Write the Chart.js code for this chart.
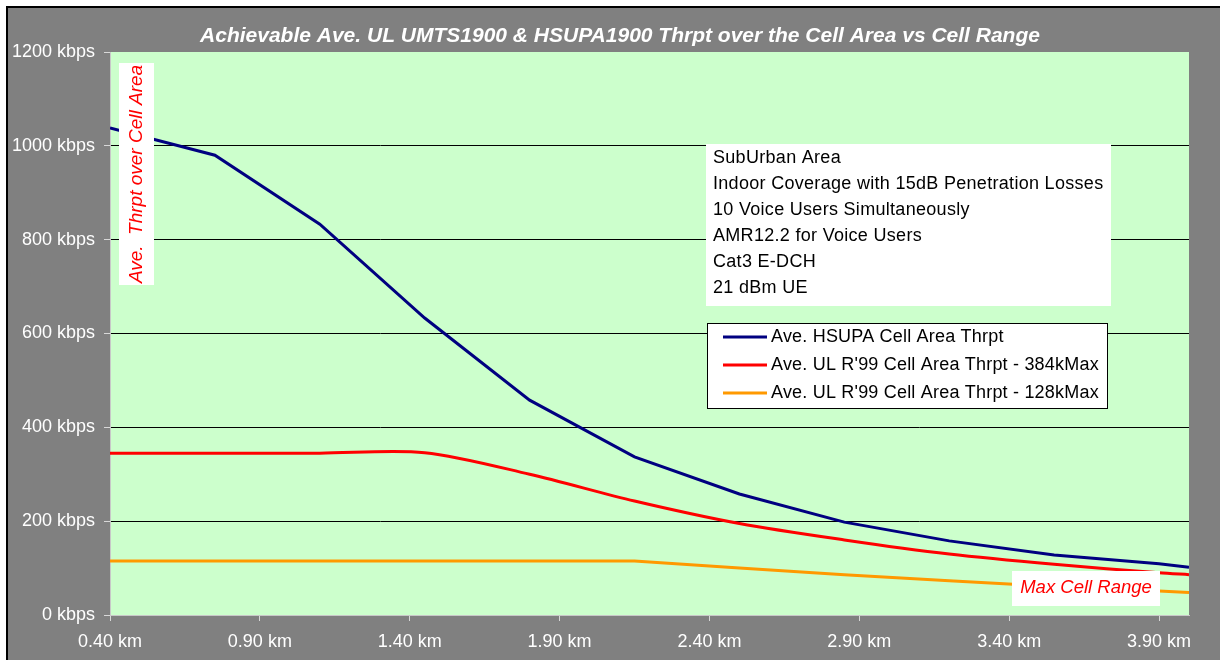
<!DOCTYPE html>
<html>
<head>
<meta charset="utf-8">
<script src="https://cdn.jsdelivr.net/npm/chart.js@4"></script>
<style>
  html, body { margin: 0; padding: 0; background: #fff; }
  .wrap { position: relative; width: 1220px; height: 660px; }
</style>
</head>
<body>
<div class="wrap"><canvas id="cv"></canvas></div>
<script>
// ---- data ----
const distKm   = [0.40, 0.75, 1.10, 1.45, 1.80, 2.15, 2.50, 2.85, 3.20, 3.55, 3.90, 4.00];
const hsupa    = [1038, 980, 833, 633, 458, 337, 258, 198, 158, 128, 109, 102];
const r99_384  = [345, 345, 345, 346, 300, 243, 195, 160, 130, 108, 90, 86];
const r99_128  = [115, 115, 115, 115, 115, 115, 100, 86, 73, 61, 51, 48];
const xTicks   = [0.40, 0.90, 1.40, 1.90, 2.40, 2.90, 3.40, 3.90];
const yTicks   = [0, 200, 400, 600, 800, 1000, 1200];

const seriesNames = [
  'Ave. HSUPA Cell Area Thrpt',
  "Ave. UL R'99 Cell Area Thrpt - 384kMax",
  "Ave. UL R'99 Cell Area Thrpt - 128kMax"
];
const seriesColors = ['#000080', '#FF0000', '#FF9900'];

const titleText = 'Achievable Ave. UL UMTS1900 & HSUPA1900 Thrpt over the Cell Area vs Cell Range';
const yNote = 'Ave.  Thrpt over Cell Area';
const rangeNote = 'Max Cell Range';
const infoLines = [
  'SubUrban Area',
  'Indoor Coverage with 15dB Penetration Losses',
  '10 Voice Users Simultaneously',
  'AMR12.2 for Voice Users',
  'Cat3 E-DCH',
  '21 dBm UE'
];

const FONT = '"Liberation Sans", Arial, sans-serif';

function pts(ys) { return distKm.map((x, i) => ({ x, y: ys[i] })); }

// background, title, boxes
const deco = {
  id: 'deco',
  beforeDraw(chart) {
    const c = chart.ctx, a = chart.chartArea;
    c.save();
    c.fillStyle = '#808080';
    c.fillRect(7, 7, 1213, 653);
    c.strokeStyle = '#000';
    c.lineWidth = 2;
    c.beginPath(); c.moveTo(7, 660); c.lineTo(7, 7); c.lineTo(1220, 7); c.stroke();
    c.fillStyle = '#CCFFCC';
    c.fillRect(a.left, a.top, a.right - a.left, a.bottom - a.top);
    c.fillStyle = '#fff';
    c.font = 'italic bold 21px ' + FONT;
    c.textAlign = 'center'; c.textBaseline = 'middle';
    c.fillText(titleText, 620, 36);
    c.restore();
  },
  afterDatasetsDraw(chart) {
    const c = chart.ctx;
    c.save();
    // rotated y note
    c.fillStyle = '#fff';
    c.fillRect(119, 63, 35, 222);
    c.translate(137, 174);
    c.rotate(-Math.PI / 2);
    c.fillStyle = '#FF0000';
    c.font = 'italic 19px ' + FONT;
    c.textAlign = 'center'; c.textBaseline = 'middle';
    c.fillText(yNote, 0, 0);
    c.setTransform(1, 0, 0, 1, 0, 0);

    // info box
    c.fillStyle = '#fff';
    c.fillRect(706, 144, 405, 162);
    c.fillStyle = '#000';
    c.font = '18px ' + FONT;
    c.letterSpacing = '0.3px';
    c.textAlign = 'left'; c.textBaseline = 'middle';
    infoLines.forEach((t, i) => c.fillText(t, 713, 158 + i * 26));

    // legend
    c.fillStyle = '#fff';
    c.fillRect(707, 323, 400, 85);
    c.strokeStyle = '#000'; c.lineWidth = 1;
    c.strokeRect(707.5, 323.5, 400, 85);
    c.letterSpacing = '0.2px';
    chart.data.datasets.forEach((ds, i) => {
      const y = 337 + i * 28;
      c.strokeStyle = ds.borderColor; c.lineWidth = 3;
      c.beginPath(); c.moveTo(723, y); c.lineTo(767, y); c.stroke();
      c.fillStyle = '#000';
      c.font = '18px ' + FONT;
      c.fillText(ds.label, 771, y);
    });
    c.letterSpacing = '0px';

    // max cell range note
    c.fillStyle = '#fff';
    c.fillRect(1012, 571, 148, 35);
    c.fillStyle = '#FF0000';
    c.font = 'italic 18.5px ' + FONT;
    c.textAlign = 'center';
    c.fillText(rangeNote, 1086, 588);
    c.restore();
  }
};

new Chart(document.getElementById('cv'), {
  type: 'line',
  data: {
    datasets: [
      { label: seriesNames[0], data: pts(hsupa), borderColor: seriesColors[0], tension: 0 },
      { label: seriesNames[1], data: pts(r99_384), borderColor: seriesColors[1], tension: 0.3 },
      { label: seriesNames[2], data: pts(r99_128), borderColor: seriesColors[2], tension: 0 }
    ].map(d => Object.assign(d, { borderWidth: 3, pointRadius: 0, fill: false }))
  },
  options: {
    responsive: true, maintainAspectRatio: false, animation: false,
    layout: { padding: { top: 52, right: 31, left: 0, bottom: 0 } },
    plugins: { legend: { display: false }, tooltip: { enabled: false } },
    scales: {
      x: {
        type: 'linear', min: 0.4, max: 4.0,
        afterBuildTicks: s => { s.ticks = xTicks.map(v => ({ value: v })); },
        afterFit: s => { s.height = 45; },
        ticks: { color: '#fff', font: { family: FONT, size: 18 }, padding: 10, maxRotation: 0,
                 callback: v => v.toFixed(2) + ' km' },
        grid: { drawOnChartArea: false, tickLength: 6, tickColor: '#d8d8d8' },
        border: { color: '#c8c8c8', width: 1 }
      },
      y: {
        min: 0, max: 1200,
        afterBuildTicks: s => { s.ticks = yTicks.map(v => ({ value: v })); },
        afterFit: s => { s.width = 110; },
        ticks: { color: '#fff', font: { family: FONT, size: 18 }, padding: 9,
                 callback: v => v + ' kbps' },
        grid: { color: c => (c.tick && (c.tick.value === 0 || c.tick.value === 1200)) ? 'rgba(0,0,0,0)' : '#000',
                lineWidth: 1, tickLength: 6, tickColor: '#d8d8d8' },
        border: { color: '#c8c8c8', width: 1 }
      }
    }
  },
  plugins: [deco]
});
</script>
</body>
</html>
